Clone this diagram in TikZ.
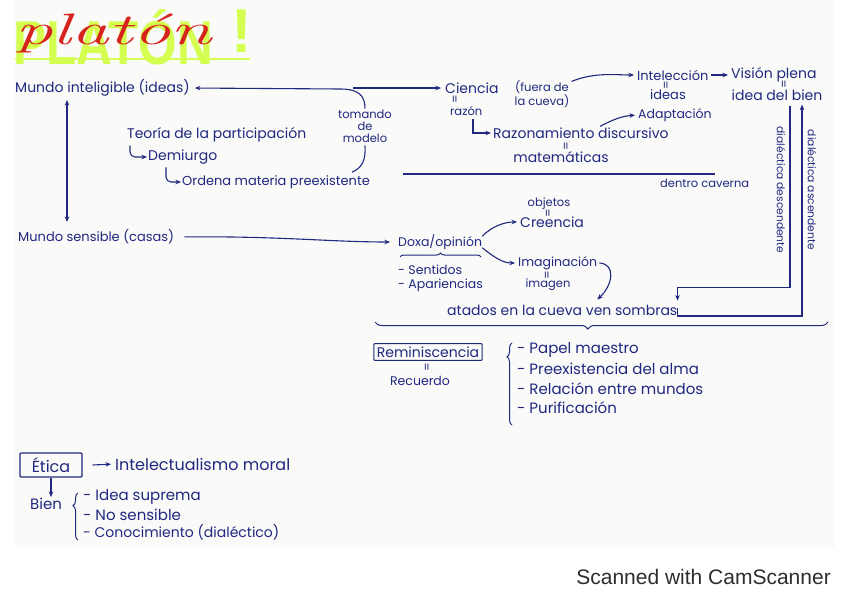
\documentclass[tikz,border=0pt]{standalone}
\usepackage{fontspec}
\newfontfamily\handfont{Poppins}
\newfontfamily\scanfont{Liberation Sans}
\newfontfamily\titlefont{Liberation Sans}
\usetikzlibrary{arrows.meta,decorations.pathreplacing,calc}
\definecolor{ink}{RGB}{32,40,128}
\definecolor{limeg}{RGB}{212,255,80}
\definecolor{redink}{RGB}{215,35,30}
\definecolor{paper}{RGB}{250,250,248}
\definecolor{scan}{RGB}{45,45,45}
\tikzset{
 hw/.style={text=ink, inner sep=0pt, anchor=west, font=\handfont\fontsize{14}{16}\selectfont},
 hwi/.style={hw, font=\handfont\fontsize{13}{15}\selectfont},
 hwm/.style={hw, font=\handfont\fontsize{12.5}{14}\selectfont},
 hws/.style={hw, font=\handfont\fontsize{11.5}{12}\selectfont},
 hwd/.style={hw, font=\handfont\fontsize{10.7}{12}\selectfont},
 hwl/.style={hw, font=\handfont\fontsize{16}{18}\selectfont},
 hwx/.style={hw, font=\handfont\fontsize{15}{17}\selectfont},
 eqm/.style={text=ink, inner sep=0pt, rotate=90, font=\handfont\fontsize{12}{12}\selectfont},
 conn/.style={draw=ink, line width=1.1pt, -{Stealth[length=5.5pt,width=4.5pt]}},
 ln/.style={draw=ink, line width=1.1pt},
 boxed/.style={draw=ink, line width=1.1pt, rounded corners=1pt, inner sep=3pt},
 brc/.style={draw=ink, line width=1pt, decorate, decoration={brace, amplitude=#1}},
}
\begin{document}
\begin{tikzpicture}[x=1pt,y=-1pt]
\useasboundingbox (0,0) rectangle (848,599);
\fill[white] (0,0) rectangle (848,599);
\fill[paper] (15,0) rectangle (835,547);

% title
\node[text=limeg, inner sep=0pt, anchor=west, xscale=0.8,
      font=\titlefont\bfseries\fontsize{62}{62}\selectfont] (tg) at (13,37) {PLATÓN};
\node[text=limeg, inner sep=0pt,
      font=\titlefont\bfseries\fontsize{62}{62}\selectfont] (tx) at (242,31) {!};
\draw[limeg, line width=2pt] (15,59) -- (250,59);
\node[text=redink, inner sep=0pt, anchor=west, xscale=1.7,
      font=\itshape\fontsize{44}{44}\selectfont] (tr) at (15,33) {platón};

% left column
\node[hw] (mi) at (15,88) {Mundo inteligible (ideas)};
\node[hwi] (ms) at (18,237) {Mundo sensible (casas)};
\coordinate (vup) at (67,100);
\coordinate (vdn) at (67,222);
\draw[conn, {Stealth[length=5.5pt,width=4.5pt]}-{Stealth[length=5.5pt,width=4.5pt]}] (vup) -- (vdn);

\node[hw] (teo) at (127,135) {Teoría de la participación};
\node[hw] (dem) at (148,157) {Demiurgo};
\node[hwi] (ord) at (182,182) {Ordena materia preexistente};
\draw[conn, rounded corners=5pt, shorten >=1pt] ([xshift=3pt,yshift=-3pt]teo.south west) |- (dem.west);
\draw[conn, rounded corners=5pt, shorten >=1pt] ([xshift=18pt,yshift=-3pt]dem.south west) |- (ord.west);

\node[hws, anchor=center, align=center] (tom) at (365,126) {tomando\\de\\modelo};
\draw[conn, shorten >=5pt] ([yshift=1pt]tom.north) .. controls (365,95) and (358,89) .. (340,89) -- (mi.east);
\draw[ln] ([yshift=-3pt]tom.south) .. controls (366,160) and (362,168) .. ([xshift=-18pt,yshift=3pt]ord.north east);

% ciencia
\coordinate (cs) at (353,88);
\node[hw] (cie) at (445,88) {Ciencia};
\draw[conn, shorten >=4pt] (cs) -- (cie.west);
\node[hws, anchor=center, align=center] (fue) at (542,94) {(fuera de\\la cueva)};
\node[eqm] (e1) at (456,99) {=};
\node[hws] (raz) at (450,111) {razón};
\node[hw] (rd) at (493,133) {Razonamiento discursivo};
\draw[conn, shorten >=2pt] ([xshift=23pt,yshift=-3pt]raz.south west) |- (rd.west);
\node[eqm] (e2) at (567,146) {=};
\node[hw, anchor=center] (mat) at (561,157) {matemáticas};

\node[hwi] (int) at (637,75) {Intelección};
\node[hw] (vis) at (731,75) {Visión plena};
\draw[conn, shorten <=2pt, shorten >=3pt] (int.east) -- (vis.west);
\draw[conn, shorten >=3pt] ([xshift=2pt,yshift=-1pt]fue.north east) .. controls (595,72) and (615,75) .. (int.west);
\node[eqm] (e3) at (667,85) {=};
\node[hwi, anchor=center] (ide) at (668,95) {ideas};
\node[eqm] (e4) at (785,84) {=};
\node[hw, anchor=center] (bien) at (777,95) {idea del bien};
\node[hwm] (ada) at (638,115) {Adaptación};
\draw[conn, shorten >=3pt] ([xshift=107pt,yshift=1pt]rd.north west) .. controls (612,120) and (622,116) .. (ada.west);

% dentro caverna
\coordinate (dl) at (403,174);
\coordinate (dr) at (715,174);
\draw[ln] (dl) -- (dr);
\node[hws] (dc) at (660,183) {dentro caverna};

% dialectica
\node[hwd, anchor=center, rotate=-90] (dd) at (781,190) {dialéctica descendente};
\node[hwd, anchor=center, rotate=-90] (da) at (812,190) {dialéctica ascendente};

% doxa
\node[hwm] (dox) at (398,242) {Doxa/opinión};
\draw[conn, shorten <=10pt, shorten >=4pt] (ms.east) .. controls (280,236) and (330,242) .. ([xshift=-4pt]dox.west);
\draw[brc=4] (400,257) -- (481,257);
\node[hwm] (sen) at (398,270) {- Sentidos};
\node[hwm] (apa) at (398,285) {- Apariencias};
\node[hws, anchor=center] (obj) at (549,204) {objetos};
\node[eqm] (e5) at (549,213) {=};
\node[hw] (cre) at (520,222) {Creencia};
\node[hwm] (ima) at (518,263) {Imaginación};
\node[eqm] (e6) at (548,275) {=};
\node[hws, anchor=center] (img) at (548,285) {imagen};
\draw[conn, shorten >=3pt] ([yshift=-2pt]dox.north east) .. controls (492,226) and (505,222) .. (cre.west);
\draw[conn, shorten >=3pt] ([yshift=2pt]dox.south east) .. controls (495,258) and (503,263) .. (ima.west);
\node[hw] (ata) at (447,310) {atados en la cueva ven sombras};
\draw[conn] ([xshift=2pt]ima.east) .. controls (616,264) and (613,285) .. ([xshift=35pt,yshift=5pt]ata.north);

\draw[conn] ([xshift=13pt,yshift=-5pt]bien.south) -- ++(0,182) -| ([yshift=4pt]ata.north east);
\draw[conn] ([yshift=2pt]ata.east) -- ++(0,8) -| ([xshift=25pt,yshift=-4pt]bien.south);

% reminiscencia
\draw[brc=7, decoration={mirror, aspect=0.47}] (375,322) -- (828,322);
\node[hw, boxed, anchor=center] (rem) at (428,352) {Reminiscencia};
\node[eqm] (e7) at (428,367) {=};
\node[hwm, anchor=center] (rec) at (420,381) {Recuerdo};
\draw[brc=5, decoration={aspect=0.83}] (512,425) -- (512,343);
\node[hwx] (l1) at (517,350) {- Papel maestro};
\node[hwx] (l2) at (517,369) {- Preexistencia del alma};
\node[hwx] (l3) at (517,389) {- Relación entre mundos};
\node[hwx] (l4) at (517,408) {- Purificación};

% etica
\node[hwl, boxed, anchor=center, minimum width=62pt, minimum height=24pt] (eti) at (51,465) {Ética};
\node[hwl] (im) at (115,464) {Intelectualismo moral};
\draw[conn, shorten >=4pt] ([xshift=10pt]eti.east) -- (im.west);
\node[hwx] (bie) at (30,504) {Bien};
\draw[conn, shorten >=1pt] (eti.south) -- (eti.south |- bie.north);
\draw[brc=5, decoration={aspect=0.73}] (78,540) -- (78,493);
\node[hwx] (b1) at (83,497) {- Idea suprema};
\node[hwx] (b2) at (83,515) {- No sensible};
\node[hw] (b3) at (83,532) {- Conocimiento (dialéctico)};

\node[anchor=east, inner sep=0pt, text=scan, font=\scanfont\fontsize{21}{21}\selectfont] (scn) at (831,577) {Scanned with CamScanner};
\end{tikzpicture}
\end{document}
